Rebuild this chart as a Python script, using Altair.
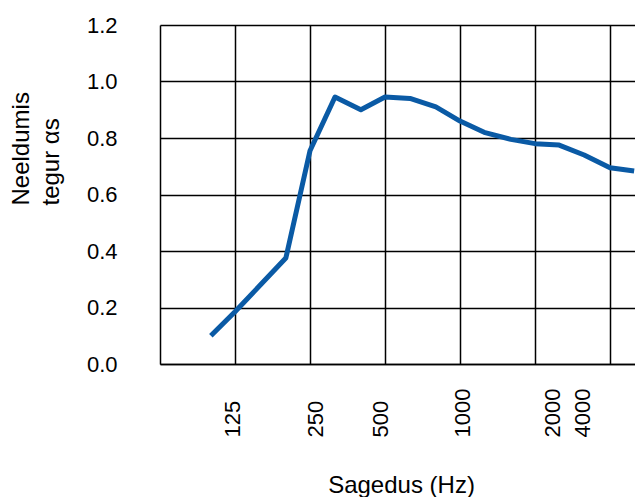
import altair as alt
import pandas as pd

# Third-octave band centre frequencies (Hz) and absorption coefficient
freqs = [100, 125, 160, 200, 250, 315, 400, 500, 630, 800, 1000, 1250,
         1600, 2000, 2500, 3150, 4000, 5000]
alpha = [0.10, 0.185, 0.285, 0.375, 0.755, 0.945, 0.90, 0.945, 0.94, 0.91,
         0.86, 0.82, 0.795, 0.78, 0.775, 0.74, 0.695, 0.683]

x_ticks = [125, 250, 500, 1000, 2000, 4000]
y_ticks = [0.0, 0.2, 0.4, 0.6, 0.8, 1.0, 1.2]
label_shift = {125: -3, 250: 5, 500: -5, 1000: 2, 2000: 17, 4000: -28}

df = pd.DataFrame({"f": freqs, "a": alpha})

W = 475
H = 339
x_min = 62.5
x_max = x_min * 2 ** (W / 75)

font = "Liberation Sans"

offset_cond = {
    "condition": [{"test": f"datum.value == {k}", "value": v} for k, v in label_shift.items()],
    "value": 0,
}

chart = alt.Chart(df).mark_line(
    color="#0a5aa5", strokeWidth=5, strokeJoin="round", strokeCap="butt", clip=True
).encode(
    x=alt.X(
        "f:Q",
        scale=alt.Scale(type="log", base=2, domain=[x_min, x_max], nice=False),
        axis=alt.Axis(
            values=x_ticks,
            title="Sagedus (Hz)",
            grid=True,
            gridColor="black",
            gridWidth=1.5,
            gridOpacity=1,
            ticks=False,
            domainColor="black",
            domainWidth=1.5,
            labelAngle=270,
            labelAlign="left",
            labelBaseline="middle",
            labelPadding=73,
            labelOffset=offset_cond,
            labelFont=font,
            labelFontSize=22,
            labelColor="black",
            labelOverlap=False,
            labelFlush=False,
            format="d",
            titleFont=font,
            titleFontSize=24,
            titleFontWeight="normal",
            titleColor="black",
            titleX=241,
            titleY=128,
            titleAlign="center",
            titleBaseline="alphabetic",
        ),
    ),
    y=alt.Y(
        "a:Q",
        scale=alt.Scale(domain=[0, 1.2], nice=False),
        axis=alt.Axis(
            values=y_ticks,
            format=".1f",
            title=["Neeldumis", "tegur \u03b1s"],
            grid=True,
            gridColor="black",
            gridWidth=1.5,
            gridOpacity=1,
            ticks=False,
            domainColor="black",
            domainWidth=1.5,
            labelPadding=43,
            labelFont=font,
            labelFontSize=22,
            labelColor="black",
            labelBaseline="middle",
            labelFlush=False,
            labelOverlap=False,
            titleFont=font,
            titleFontSize=24,
            titleFontWeight="normal",
            titleColor="black",
            titleAngle=270,
            titleAlign="left",
            titleBaseline="alphabetic",
            titleLineHeight=30,
            titleX=-132,
            titleY=180,
        ),
    ),
).properties(
    width=W,
    height=H,
    autosize=alt.AutoSizeParams(type="none"),
    padding={"left": 152, "top": 17, "right": 0, "bottom": 134},
).configure_view(stroke="transparent")

chart.save("out.html", embed_options={"renderer": "svg", "actions": False})
